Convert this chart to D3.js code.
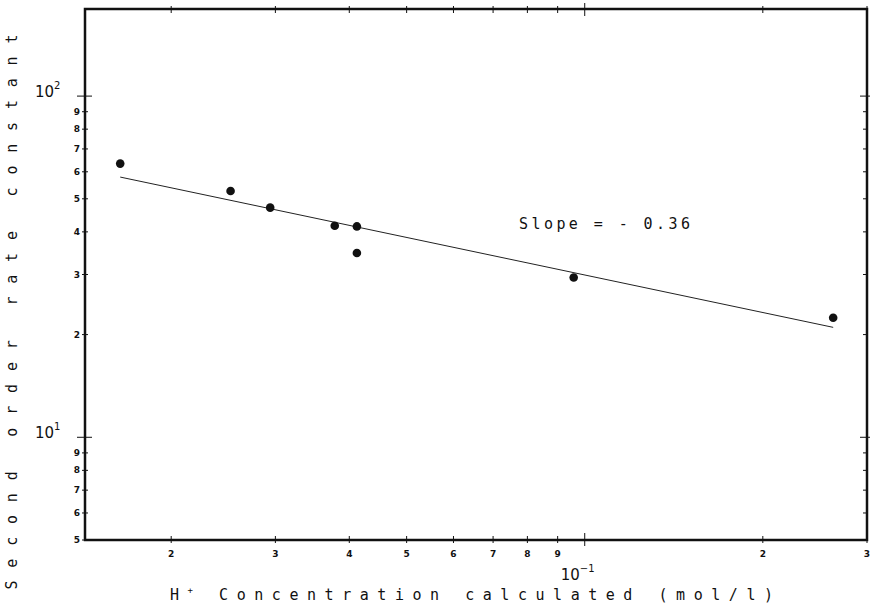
<!DOCTYPE html>
<html>
<head>
<meta charset="utf-8">
<script src="https://cdn.jsdelivr.net/npm/d3@7/dist/d3.min.js"></script>
<style>
  html, body { margin: 0; padding: 0; background: #fff; }
  svg { display: block; }
</style>
</head>
<body>
<div id="chart"></div>
<script>
// data (log-log)
const hConc    = [0.0164, 0.0252, 0.0294, 0.0378, 0.0412, 0.0412, 0.0958, 0.263];
const rateK    = [63.4, 52.7, 47.1, 41.7, 41.5, 34.7, 29.4, 22.4];
const fitConc  = [0.0164, 0.263];
const fitRate  = [57.9, 21.0];

const xTickVals   = [0.02, 0.03, 0.04, 0.05, 0.06, 0.07, 0.08, 0.09, 0.1, 0.2, 0.3];
const xTickLabels = ['2', '3', '4', '5', '6', '7', '8', '9', '10^-1', '2', '3'];
const yTickVals   = [5, 6, 7, 8, 9, 10, 20, 30, 40, 50, 60, 70, 80, 90, 100];
const yTickLabels = ['5', '6', '7', '8', '9', '10^1', '2', '3', '4', '5', '6', '7', '8', '9', '10^2'];

const W = 871, H = 610;
const M = { left: 85, right: 867, top: 9, bottom: 540 };

const svg = d3.select('#chart').append('svg')
  .attr('width', W).attr('height', H)
  .attr('viewBox', `0 0 ${W} ${H}`);

const x = d3.scaleLog().domain([0.0143, 0.3]).range([M.left, M.right]);
const y = d3.scaleLog().domain([5, 180]).range([M.bottom, M.top]);

const INK = '#111';
const FONT = "'DejaVu Sans', sans-serif";
const MONO = "'DejaVu Sans Mono', monospace";

const isMajor = v => Math.abs(Math.log10(v) - Math.round(Math.log10(v))) < 1e-9;

// ── ticks ──
const g = svg.append('g').attr('stroke', INK).attr('stroke-width', 1);
const allX = x.ticks().filter(v => v >= x.domain()[0] && v <= x.domain()[1]);
const allY = y.ticks().filter(v => v >= y.domain()[0] && v <= y.domain()[1]);

allX.forEach(v => {
  const px = x(v), big = isMajor(v);
  g.append('line').attr('x1', px).attr('x2', px)
    .attr('y1', M.top - (big ? 6 : 3)).attr('y2', M.top + (big ? 7 : 4));
  g.append('line').attr('x1', px).attr('x2', px)
    .attr('y1', M.bottom - (big ? 7 : 4)).attr('y2', M.bottom + (big ? 6 : 3));
});
allY.forEach(v => {
  const py = y(v), big = isMajor(v);
  g.append('line').attr('y1', py).attr('y2', py)
    .attr('x1', M.left - (big ? 8 : 3)).attr('x2', M.left + (big ? 7 : 3));
  g.append('line').attr('y1', py).attr('y2', py)
    .attr('x1', M.right - (big ? 7 : 4)).attr('x2', M.right + (big ? 3 : 1));
});

// ── frame ──
svg.append('rect')
  .attr('x', M.left).attr('y', M.top)
  .attr('width', M.right - M.left).attr('height', M.bottom - M.top)
  .attr('fill', 'none').attr('stroke', INK).attr('stroke-width', 2.5);

// ── tick labels ──
function powLabel(sel, base, exp, bigSize, supSize, supDy) {
  sel.append('tspan').attr('font-size', bigSize).text(base);
  sel.append('tspan').attr('font-size', supSize).attr('dy', supDy).text(exp);
}

xTickVals.forEach((v, i) => {
  const lab = xTickLabels[i];
  if (lab.includes('^')) {
    const [b, e] = lab.split('^');
    const t = svg.append('text')
      .attr('x', x(v) - 24).attr('y', 580)
      .attr('font-family', FONT).attr('fill', INK);
    powLabel(t, b, e.replace('-', '\u2212'), 15, 10, -8);
  } else {
    svg.append('text')
      .attr('x', x(v)).attr('y', 557)
      .attr('text-anchor', 'middle')
      .attr('font-family', FONT).attr('font-size', 9).attr('font-weight', 'bold')
      .attr('fill', INK).text(lab);
  }
});

yTickVals.forEach((v, i) => {
  const lab = yTickLabels[i];
  if (lab.includes('^')) {
    const [b, e] = lab.split('^');
    const t = svg.append('text')
      .attr('x', 35).attr('y', y(v) + 1)
      .attr('font-family', FONT).attr('fill', INK);
    powLabel(t, b, e, 15, 10, -8);
  } else {
    svg.append('text')
      .attr('x', 77).attr('y', y(v) + 3)
      .attr('text-anchor', 'middle')
      .attr('font-family', FONT).attr('font-size', 9).attr('font-weight', 'bold')
      .attr('fill', INK).text(lab);
  }
});

// ── fit line ──
const line = d3.line().x(d => x(d[0])).y(d => y(d[1]));
svg.append('path')
  .datum(fitConc.map((c, i) => [c, fitRate[i]]))
  .attr('d', line)
  .attr('fill', 'none').attr('stroke', '#222').attr('stroke-width', 1);

// ── points ──
svg.append('g').selectAll('circle')
  .data(hConc.map((c, i) => [c, rateK[i]]))
  .enter().append('circle')
  .attr('cx', d => x(d[0])).attr('cy', d => y(d[1]))
  .attr('r', 4.3).attr('fill', INK);

// ── annotation ──
svg.append('text')
  .attr('x', 519).attr('y', 229)
  .attr('font-family', MONO).attr('font-size', 15).attr('fill', INK)
  .attr('textLength', 171).attr('lengthAdjust', 'spacing')
  .text('Slope = - 0.36');

// ── axis titles ──
const xt = svg.append('text')
  .attr('x', 170).attr('y', 600)
  .attr('font-family', MONO).attr('font-size', 15).attr('fill', INK)
  .attr('textLength', 603).attr('lengthAdjust', 'spacing');
xt.append('tspan').text('H');
xt.append('tspan').attr('font-size', 9).attr('dy', -7).text('+');
xt.append('tspan').attr('dy', 7).text('  Concentration  calculated  (mol/l)');

svg.append('text')
  .attr('transform', 'translate(17,312) rotate(-90)')
  .attr('text-anchor', 'middle')
  .attr('font-family', MONO).attr('font-size', 15).attr('fill', INK)
  .attr('textLength', 555).attr('lengthAdjust', 'spacing')
  .text('Second  order  rate  constant');
</script>
</body>
</html>
